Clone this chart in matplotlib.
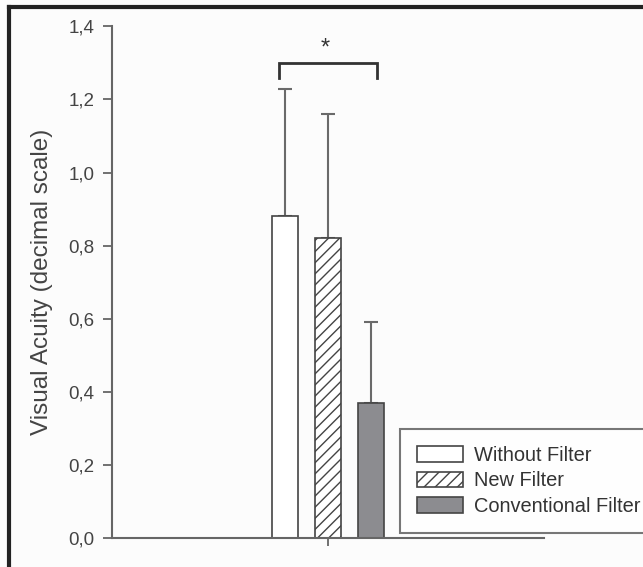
import matplotlib.pyplot as plt
from matplotlib.lines import Line2D
import numpy as np

plt.rcParams['font.family'] = ['Liberation Sans', 'DejaVu Sans']

# data
groups = ['Without Filter', 'New Filter', 'Conventional Filter']
means = [0.88, 0.82, 0.37]
upper_sd = [0.35, 0.34, 0.22]
fills = ['white', 'white', '#8c8c90']
hatches = [None, '///', None]
y_ticks = [0.0, 0.2, 0.4, 0.6, 0.8, 1.0, 1.2, 1.4]
y_tick_labels = ['0,0', '0,2', '0,4', '0,6', '0,8', '1,0', '1,2', '1,4']

W, H = 643, 567
fig = plt.figure(figsize=(W / 100, H / 100), dpi=100, facecolor='#fcfcfc')
ax = fig.add_axes([112 / W, (H - 538) / H, 432 / W, (538 - 26.4) / H])
ax.set_facecolor('#fcfcfc')

plt.rcParams['hatch.color'] = '#444444'
plt.rcParams['hatch.linewidth'] = 1.0

offsets = np.array([-1, 0, 1])
for x, m, e, fc, h, lab in zip(offsets, means, upper_sd, fills, hatches, groups):
    ax.bar(x, m, width=0.6, color=fc, edgecolor='#444444', linewidth=1.2,
           hatch=h, label=lab, zorder=2)
    ax.errorbar(x, m, yerr=[[0], [e]], fmt='none', ecolor='#6a6a6a',
                elinewidth=1.5, capsize=4.8, capthick=1.5, zorder=1)

# significance bracket between first and last bar
bx0, bx1 = offsets[0] - 0.15, offsets[2] + 0.13
ax.plot([bx0, bx0, bx1, bx1], [1.26, 1.30, 1.30, 1.26], color='#333333',
        linewidth=2, solid_joinstyle='miter', clip_on=False)
ax.text(-0.07, 1.31, '*', ha='center', va='bottom', fontsize=17, color='#333333')

ax.set_xlim(-216 / 43, 216 / 43)
ax.set_ylim(0, 1.4)
ax.set_xticks([0])
ax.set_xticklabels([''])
ax.set_yticks(y_ticks)
ax.set_yticklabels(y_tick_labels)
ax.tick_params(axis='y', direction='out', length=6.5, width=1.3, colors='#666666',
               labelcolor='#444444', labelsize=13.5, pad=6)
ax.tick_params(axis='x', direction='out', length=6, width=1.3, colors='#666666')
for s in ['top', 'right']:
    ax.spines[s].set_visible(False)
for s in ['left', 'bottom']:
    ax.spines[s].set_color('#666666')
    ax.spines[s].set_linewidth(1.5)

ax.set_ylabel('Visual Acuity (decimal scale)', fontsize=17.5, color='#444444', labelpad=11)

leg = fig.legend(loc='upper left', bbox_to_anchor=(400 / W, 1 - 429 / H),
                 fontsize=14.4, frameon=True, fancybox=False, borderpad=0.85,
                 handlelength=2.3, handleheight=0.8, handletextpad=0.55,
                 labelspacing=0.32, borderaxespad=0)
leg.get_frame().set_edgecolor('#555555')
leg.get_frame().set_linewidth(1.5)
leg.get_frame().set_facecolor('white')
for t in leg.get_texts():
    t.set_color('#333333')

# outer frame of the figure (left and top only)
fig.add_artist(Line2D([9 / W, 9 / W], [0, 1 - 7 / H], color='#222222', linewidth=3,
                      transform=fig.transFigure))
fig.add_artist(Line2D([9 / W, 1], [1 - 7 / H, 1 - 7 / H], color='#222222', linewidth=3,
                      transform=fig.transFigure))

fig.savefig('out.png', dpi=100, facecolor=fig.get_facecolor())
